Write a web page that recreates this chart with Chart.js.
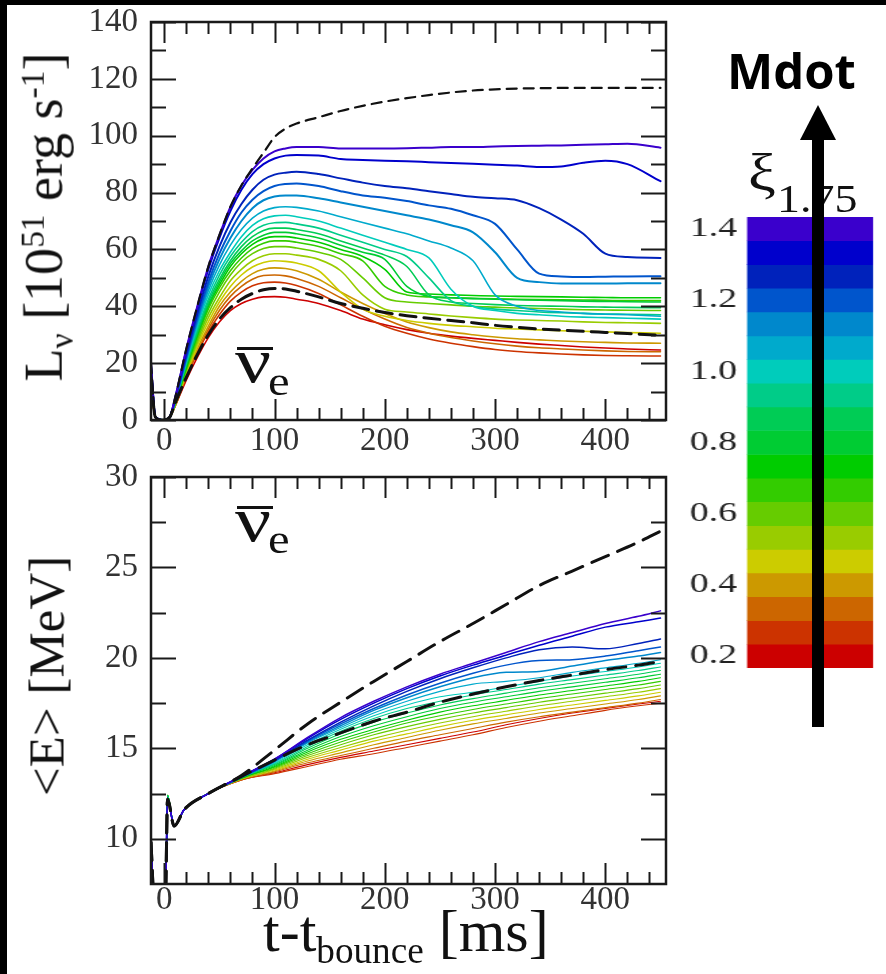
<!DOCTYPE html>
<html>
<head>
<meta charset="utf-8">
<script src="https://cdn.jsdelivr.net/npm/chart.js@4.4.1/dist/chart.umd.min.js"></script>
<style>
  html, body { margin: 0; padding: 0; background: #fff; }
  #stage { position: relative; width: 886px; height: 974px; overflow: hidden; background: #fff; }
  .blk { position: absolute; background: #000; }
  canvas { position: absolute; }
  .serif { position: absolute; font-family: "Liberation Serif", "Times New Roman", serif; color: #111; white-space: nowrap; line-height: 1; }
  .rot { transform: translate(-50%, -50%) rotate(-90deg); }
  .sub { font-size: 0.62em; vertical-align: -0.32em; }
  .sup { font-size: 0.62em; vertical-align: 0.55em; }
  .wide { transform-origin: 0 0; }
  .bar { position: absolute; background: #111; }
</style>
</head>
<body>
<div id="stage">
  <div class="blk" style="left:0;top:0;width:886px;height:5px"></div>
  <div class="blk" style="left:0;top:0;width:7px;height:974px"></div>

  <canvas id="lum" width="610" height="455" style="left:70px;top:5px"></canvas>
  <canvas id="ene" width="610" height="465" style="left:70px;top:460px"></canvas>
  <canvas id="bar" width="144" height="480" style="left:680px;top:200px;transform:scaleX(1.35);transform-origin:0 0"></canvas>

  <div class="serif rot" style="left:47px;top:217px;font-size:54px">L<span class="sub">ν</span> [10<span class="sup">51</span> erg s<span class="sup">-1</span>]</div>
  <div class="serif rot" style="left:47px;top:676px;font-size:51px">&lt;E&gt; [MeV]</div>
  <div class="serif" style="left:263px;top:901px;font-size:60px">t-t<span class="sub">bounce</span> [ms]</div>

  <!-- anti-neutrino flavour tags -->
  <div class="bar" style="left:237px;top:347px;width:36px;height:3px"></div>
  <div class="serif wide" style="left:235px;top:329px;font-size:64px;transform:scaleX(1.25)">ν</div>
  <div class="serif wide" style="left:268px;top:362px;font-size:39px;transform:scaleX(1.25)">e</div>
  <div class="bar" style="left:237px;top:506px;width:36px;height:3px"></div>
  <div class="serif wide" style="left:235px;top:488px;font-size:64px;transform:scaleX(1.25)">ν</div>
  <div class="serif wide" style="left:268px;top:520px;font-size:39px;transform:scaleX(1.25)">e</div>

  <div class="serif wide" style="left:748px;top:147px;font-size:52px;transform:scaleX(1.2)">ξ</div>
  <div class="serif wide" style="left:777px;top:178px;font-size:41px;transform:scaleX(1.12)">1.75</div>
  <div style="position:absolute;left:727px;top:46px;font-family:'Open Sans',sans-serif;font-weight:700;font-size:49px;line-height:1;color:#000">Mdot</div>
  <svg style="position:absolute;left:0;top:0" width="886" height="974">
    <rect x="812" y="138" width="12" height="589" fill="#000"/>
    <polygon points="800,140 836,140 818,105" fill="#000"/>
  </svg>
</div>

<script>
// ---- time axes (ms after bounce) ----
const T_LUM = [-12,-8,0,5,10,20,30,40,50,60,70,80,90,100,110,120,140,160,180,200,220,240,260,280,300,320,340,360,380,400,420,450];
const T_EN  = [-12,-9,1,3,9,18,40,70,100,130,160,190,220,250,280,310,340,370,400,430,450];

// ---- compactness bands of the colour scale ----
const XI = [1.4,1.333,1.267,1.2,1.133,1.067,1.0,0.933,0.867,0.8,0.733,0.667,0.6,0.533,0.467,0.4,0.333,0.267,0.2];
const XI_COLORS = ['#3a00cc','#0000cc','#0022bb','#0055cc','#0088cc','#00aacc','#00ccbb','#00cc88','#00cc55','#00cc33','#00cc00','#33cc00','#66cc00','#99cc00','#cccc00','#cc9900','#cc6600','#cc3300','#cc0000'];
const XI_TICKS = [0.2,0.4,0.6,0.8,1.0,1.2,1.4];

// ---- anti-electron neutrino luminosity [1e51 erg/s] ----
const L_140 = [20,1,0,1,8,25,40,54,65,75,82.5,88,92,94.5,95.5,96,96,95.5,95.5,95.5,95.6,95.8,96,96,96.2,96.4,96.5,96.6,96.8,97,97.2,95.8];
const L_133 = [19,1,0,1,8,24.5,39.5,53,64,73.5,81,86.5,90,92,93,93.2,93,91.8,91.5,91.2,91,90.7,90.4,90.1,89.8,89.5,89,89.2,90.5,91.2,90,84];
const L_127 = [19,1,0,1,7.5,23,37.5,50.5,61,69.5,76,81,84.5,86.3,87,87.3,86.5,85,83.5,82.3,81.5,80.5,79.5,78.5,78,77.3,74.5,70.5,65.5,58.5,57.3,57];
const L_120 = [18,1,0,1,7,22,36,48.5,58.5,66.5,73,77.5,80.5,82.3,83,83.2,82.3,80.5,79,78.2,77,75.5,74.3,72,69,60,51.5,50.5,50.3,50.4,50.5,50.6];
const L_113 = [18,1,0,1,7,21.5,35,47,56.5,64,70,74.5,77.3,78.6,79,79,78,76.5,75,73.5,72,70.5,68.5,66,59,50,48.5,48,48,48,48.1,48.1];
const L_107 = [17,1,0,1,7,21,34,45.5,54.5,61.5,67,71,73.5,74.7,75,74.8,73.5,71.5,69.5,67.5,65.5,63,60.5,56,44,40,38.5,38,37.5,37.2,37,36.5];
const L_100 = [17,1,0,1,6.5,20.5,33,44,52.5,59,64.5,68.5,70.8,71.8,72,71.5,70,67.5,65,62.5,60,57,46,40,38.5,37.5,37,36.5,36.2,36,35.8,35.5];
const L_093 = [16,1,0,1,6.5,20,32,42.5,51,57.5,62.5,66.3,68.5,69.4,69.5,69,67.5,65,62.5,60,57.5,50,42,40,39,38.5,38,37.7,37.5,37.3,37.2,37];
const L_087 = [16,1,0,1,6.5,19.5,31,41.5,49.5,56,61,64.5,66.7,67.5,67.5,67,65.5,63,60.5,58,54,44,41.5,41,40.6,40.3,40.1,40,39.8,39.7,39.6,39.5];
const L_080 = [15,1,0,1,6,19,30.5,40.5,48.5,55,59.5,63,65,66,66,65.5,64,61.5,59,56.5,47,43.5,43,42.7,42.5,42.3,42.1,42,41.8,41.7,41.6,41.5];
const L_073 = [15,1,0,1,6,18.5,30,40,47.5,54,58.5,61.8,63.8,64.5,64.5,64,62.5,60,57.5,53,45,44.3,44,43.8,43.6,43.5,43.4,43.3,43.2,43.1,43,43];
const L_067 = [14,1,0,1,6,18,29,39,46.5,52.5,57,60.3,62.2,63,63,62.5,61,58.5,56,47,44,43.3,43,42.8,42.6,42.5,42.4,42.3,42.2,42.1,42,42];
const L_060 = [14,1,0,1,5.5,17.5,28,37.5,45,51,55.5,58.5,60.3,61,61,60.5,59,56.5,50,43,41.5,41,40.5,40,39.7,39.4,39.2,39,38.8,38.7,38.6,38.5];
const L_053 = [13,1,0,1,5.5,17,27,36,43,49,53,56,57.8,58.5,58.5,58,56.5,52.5,44,39,38,37.3,36.6,36,35.5,35.2,35,34.8,34.5,34.3,34.2,34];
const L_047 = [13,1,0,1,5.5,16.5,26,34.5,41.5,47,51,53.8,55.4,56,55.8,55.2,52.5,45,39,36.5,35,34,33.3,32.8,32.3,32,31.7,31.4,31.2,31,30.8,30.5];
const L_040 = [12,1,0,1,5,16,25,33,40,45,48.8,51.5,53,53.5,53.3,52.5,49.5,45,41,37.5,34.5,32.5,31,30,29.2,28.6,28.2,27.8,27.5,27.3,27.1,27];
const L_033 = [12,1,0,1,5,15.5,24,32,38.5,43.5,47,49.5,50.8,51,50.7,49.8,47,43,39,35.5,32.5,30.5,29,27.8,26.8,26,25.4,25,24.6,24.3,24.1,24];
const L_027 = [11,1,0,1,5,15,23.5,31,37,41.8,45,47.2,48.3,48.5,48.2,47.3,44.5,40.5,36.5,33,30.5,28.5,27,25.8,24.8,24.1,23.6,23.2,22.9,22.7,22.6,22.5];
const L_020 = [11,1,0,1,5,14,22,29,34.5,38.5,41,42.5,43.3,43.4,43.2,42.5,41,38.5,35.5,33.5,31.8,30.5,29.5,28.7,28,27.3,26.7,26.2,25.7,25.3,25,24.6];
const L_DASH_HI = [20,1,0,1,8,25,40,54,65,75,82.5,88.5,94,99.5,102.5,104.3,106.5,108.7,110.5,112,113.2,114.3,115.2,115.9,116.3,116.6,116.7,116.8,116.8,116.8,116.8,116.8];
const L_DASH_LO = [15,1,0,1,6,15,23,30,35.5,39.5,42.5,44.5,45.8,46.3,46.1,45.3,43.3,41,39.3,37.8,36.7,35.8,35,34.2,33.3,32.6,32,31.6,31.2,30.8,30.4,29.8];

// ---- mean anti-electron neutrino energy [MeV] ----
const E_140 = [9.8,6.5,6.5,12.2,10.7,11.6,12.5,13.45,14.4,15.6,16.7,17.6,18.4,19.1,19.7,20.3,20.9,21.4,21.9,22.3,22.6];
const E_133 = [9.8,6.5,6.5,12.2,10.7,11.6,12.5,13.45,14.4,15.55,16.6,17.5,18.3,19.0,19.6,20.15,20.7,21.2,21.7,22.0,22.2];
const E_127 = [9.8,6.5,6.5,12.2,10.7,11.6,12.5,13.45,14.35,15.45,16.45,17.35,18.15,18.85,19.45,20.0,20.45,20.6,20.5,20.8,21.05];
const E_120 = [9.8,6.5,6.5,12.2,10.7,11.6,12.5,13.4,14.3,15.4,16.35,17.2,17.95,18.6,19.15,19.6,19.85,19.9,20.1,20.4,20.6];
const E_113 = [9.8,6.5,6.5,12.2,10.7,11.6,12.5,13.4,14.3,15.35,16.25,17.1,17.8,18.4,18.9,19.2,19.25,19.55,19.85,20.1,20.3];
const E_107 = [9.9,6.5,6.5,12.3,10.7,11.6,12.5,13.4,14.25,15.3,16.15,16.95,17.6,18.15,18.55,18.7,18.9,19.2,19.45,19.7,19.9];
const E_100 = [9.9,6.5,6.5,12.3,10.7,11.6,12.5,13.4,14.2,15.2,16.05,16.8,17.4,17.85,18.1,18.4,18.7,19.0,19.25,19.5,19.7];
const E_093 = [9.9,6.5,6.5,12.3,10.7,11.6,12.5,13.4,14.15,15.1,15.95,16.65,17.2,17.6,17.95,18.25,18.55,18.8,19.05,19.3,19.5];
const E_087 = [9.9,6.5,6.5,12.4,10.7,11.6,12.5,13.4,14.1,15.0,15.8,16.45,16.95,17.4,17.75,18.05,18.35,18.6,18.85,19.1,19.3];
const E_080 = [9.9,6.5,6.5,12.4,10.7,11.6,12.5,13.4,14.05,14.9,15.65,16.25,16.75,17.2,17.55,17.85,18.15,18.4,18.65,18.9,19.1];
const E_073 = [9.9,6.5,6.5,12.4,10.7,11.6,12.5,13.35,14.0,14.8,15.5,16.05,16.55,17.0,17.35,17.65,17.95,18.2,18.45,18.7,18.9];
const E_067 = [9.9,6.5,6.5,12.4,10.7,11.6,12.5,13.35,13.95,14.7,15.35,15.9,16.4,16.8,17.15,17.45,17.75,18.0,18.25,18.5,18.7];
const E_060 = [10.0,6.5,6.5,12.4,10.7,11.6,12.5,13.35,13.9,14.6,15.2,15.75,16.2,16.6,16.95,17.25,17.55,17.8,18.05,18.3,18.5];
const E_053 = [10.0,6.5,6.5,12.4,10.7,11.6,12.5,13.3,13.85,14.5,15.05,15.55,16.0,16.4,16.75,17.05,17.35,17.6,17.85,18.1,18.3];
const E_047 = [10.0,6.5,6.5,12.3,10.7,11.6,12.5,13.3,13.8,14.4,14.9,15.4,15.8,16.2,16.55,16.85,17.15,17.4,17.65,17.9,18.1];
const E_040 = [10.0,6.5,6.5,12.3,10.7,11.6,12.5,13.3,13.75,14.3,14.75,15.2,15.6,16.0,16.35,16.65,16.95,17.2,17.45,17.7,17.9];
const E_033 = [10.0,6.5,6.5,12.3,10.7,11.6,12.5,13.25,13.7,14.2,14.6,15.0,15.4,15.75,16.1,16.45,16.75,17.0,17.25,17.5,17.7];
const E_027 = [10.0,6.5,6.5,12.3,10.7,11.6,12.5,13.25,13.6,14.0,14.4,14.7,15.05,15.4,15.75,16.15,16.5,16.8,17.1,17.35,17.5];
const E_020 = [10.0,6.5,6.5,12.3,10.7,11.6,12.5,13.25,13.65,14.1,14.5,14.85,15.2,15.55,15.9,16.3,16.65,16.95,17.2,17.45,17.6];
const E_DASH_HI = [9.8,6.5,6.5,12.2,10.7,11.6,12.5,13.5,14.9,16.35,17.55,18.7,19.8,20.9,21.9,22.95,24.0,24.8,25.6,26.4,27.0];
const E_DASH_LO = [9.8,6.5,6.5,12.2,10.7,11.6,12.5,13.45,14.35,15.2,15.85,16.5,17.0,17.55,18.0,18.4,18.75,19.05,19.35,19.6,19.8];

// ---- axis ticks ----
const T_MIN = -12, T_MAX = 455;
const T_LABELS = [0,100,200,300,400];
const T_MINOR = [20,40,60,80,120,140,160,180,220,240,260,280,320,340,360,380,420,440];
const L_LABELS = [0,20,40,60,80,100,120,140];
const L_MINOR = [10,30,50,70,90,110,130];
const E_LABELS = [10,15,20,25,30];
const E_MINOR = [12.5,17.5,22.5,27.5];

const LUM_SERIES = [L_140,L_133,L_127,L_120,L_113,L_107,L_100,L_093,L_087,L_080,L_073,L_067,L_060,L_053,L_047,L_040,L_033,L_027,L_020];
const EN_SERIES  = [E_140,E_133,E_127,E_120,E_113,E_107,E_100,E_093,E_087,E_080,E_073,E_067,E_060,E_053,E_047,E_040,E_033,E_027,E_020];

const SERIF = '"Liberation Serif", "Times New Roman", serif';

// inward tick marks on all four sides plus the frame
const frameTicks = {
  id: 'frameTicks',
  afterDatasetsDraw(chart, args, o) {
    const { ctx, chartArea: a, scales: { x, y } } = chart;
    ctx.save();
    ctx.strokeStyle = '#1a1a1a';
    ctx.lineWidth = 2;
    ctx.beginPath();
    const xt = (list, len) => list.forEach(v => {
      const p = Math.round(x.getPixelForValue(v)) + 0.5;
      ctx.moveTo(p, a.bottom); ctx.lineTo(p, a.bottom - len);
      ctx.moveTo(p, a.top); ctx.lineTo(p, a.top + len);
    });
    const yt = (list, len) => list.forEach(v => {
      const p = Math.round(y.getPixelForValue(v)) + 0.5;
      ctx.moveTo(a.left, p); ctx.lineTo(a.left + len, p);
      ctx.moveTo(a.right, p); ctx.lineTo(a.right - len, p);
    });
    xt(o.xMajor, o.xMajLen); xt(o.xMinor, o.xMinLen);
    yt(o.yMajor, o.yMajLen); yt(o.yMinor, o.yMinLen);
    ctx.stroke();
    ctx.lineWidth = 2.5;
    ctx.strokeRect(a.left, a.top, a.right - a.left, a.bottom - a.top);
    ctx.restore();
  }
};

function toPoints(ts, vs) { return ts.map((t, i) => ({ x: t, y: vs[i] })); }

function panel(canvasId, ts, series, dashHi, dashLo, cfg) {
  const datasets = [];
  datasets.push({ data: toPoints(ts, dashHi), borderColor: '#111', borderWidth: cfg.dashW, borderDash: cfg.dashHi, order: 0 });
  datasets.push({ data: toPoints(ts, dashLo), borderColor: '#111', borderWidth: cfg.dashW2, borderDash: cfg.dashLo, order: 0 });
  series.forEach((vs, i) => {
    datasets.push({ data: toPoints(ts, vs), borderColor: XI_COLORS[i], borderWidth: i < 5 ? cfg.lineW + 0.4 : cfg.lineW, order: 1 });
  });
  return new Chart(document.getElementById(canvasId), {
    type: 'line',
    data: { datasets },
    options: {
      responsive: false, animation: false, events: [],
      layout: { padding: { top: cfg.padTop, right: cfg.padRight, left: 0, bottom: 0 } },
      elements: { point: { radius: 0 }, line: { cubicInterpolationMode: 'monotone', borderCapStyle: 'round', borderJoinStyle: 'round' } },
      plugins: {
        legend: { display: false }, tooltip: { enabled: false },
        frameTicks: { xMajor: T_LABELS, xMinor: T_MINOR, yMajor: cfg.yLabels, yMinor: cfg.yMinor,
                      xMajLen: 21, xMinLen: 12, yMajLen: 25, yMinLen: 15 }
      },
      scales: {
        x: {
          type: 'linear', min: T_MIN, max: T_MAX,
          afterBuildTicks: s => { s.ticks = T_LABELS.map(v => ({ value: v })); },
          afterFit: s => { s.height = cfg.xAxisH; s.paddingLeft = 0; s.paddingRight = 0; },
          ticks: { font: { family: SERIF, size: 33, lineHeight: 1 }, color: '#333', padding: cfg.xPad, maxRotation: 0, autoSkip: false },
          grid: { display: false, drawTicks: false }, border: { display: false }
        },
        y: {
          type: 'linear', min: cfg.yMin, max: cfg.yMax,
          afterBuildTicks: s => { s.ticks = cfg.yLabels.map(v => ({ value: v })); },
          afterFit: s => { s.width = cfg.yAxisW; s.paddingTop = 0; s.paddingBottom = 0; },
          ticks: { font: { family: SERIF, size: 33, lineHeight: 1 }, color: '#333', padding: 13, autoSkip: false },
          grid: { display: false, drawTicks: false }, border: { display: false }
        }
      }
    },
    plugins: [frameTicks]
  });
}

// chart area of the upper panel: x 151..666, y 22..420
panel('lum', T_LUM, LUM_SERIES, L_DASH_HI, L_DASH_LO, {
  padTop: 17, padRight: 14, xAxisH: 40, yAxisW: 81, xPad: 5,
  yMin: 0, yMax: 140, yLabels: L_LABELS, yMinor: L_MINOR,
  lineW: 1.6, dashW: 2.2, dashW2: 3, dashHi: [10, 7], dashLo: [16, 8]
});

// chart area of the lower panel: x 151..666, y 477..884
panel('ene', T_EN, EN_SERIES, E_DASH_HI, E_DASH_LO, {
  padTop: 17, padRight: 14, xAxisH: 41, yAxisW: 81, xPad: 0,
  yMin: 7.5, yMax: 30, yLabels: E_LABELS, yMinor: E_MINOR,
  lineW: 1.1, dashW: 3, dashW2: 3, dashHi: [18, 10], dashLo: [18, 10]
});

// colour scale: one floating bar segment per compactness band
const HALF = 1 / 30;
new Chart(document.getElementById('bar'), {
  type: 'bar',
  data: {
    labels: ['xi'],
    datasets: XI.map((v, i) => ({
      data: [[v - HALF, v + HALF]], backgroundColor: XI_COLORS[i], borderWidth: 0,
      grouped: false, barPercentage: 1, categoryPercentage: 1
    }))
  },
  options: {
    responsive: false, animation: false, events: [],
    layout: { padding: { top: 17, bottom: 12, right: 1, left: 0 } },
    plugins: { legend: { display: false }, tooltip: { enabled: false } },
    scales: {
      x: { display: false },
      y: {
        min: XI[XI.length - 1] - HALF, max: XI[0] + HALF,
        afterBuildTicks: s => { s.ticks = XI_TICKS.map(v => ({ value: v })); },
        afterFit: s => { s.width = 49.6; s.paddingTop = 0; s.paddingBottom = 0; },
        ticks: { callback: v => v.toFixed(1), font: { family: SERIF, size: 28, lineHeight: 1 }, color: '#222', padding: 7.4 },
        grid: { display: false, drawTicks: false }, border: { display: false }
      }
    }
  }
});
</script>
</body>
</html>
